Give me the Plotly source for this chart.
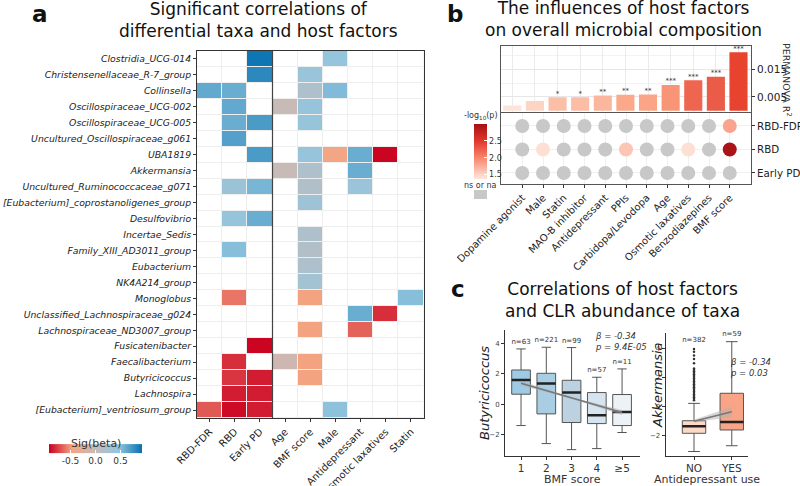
import plotly.graph_objects as go

W, H = 800, 486
def px(x): return x / W
def py(y): return 1 - y / H
FONT = "DejaVu Sans"
N = None

# ---------------- Panel a data ----------------
taxa = ["Clostridia_UCG-014", "Christensenellaceae_R-7_group", "Collinsella",
        "Oscillospiraceae_UCG-002", "Oscillospiraceae_UCG-005", "Uncultured_Oscillospiraceae_g061",
        "UBA1819", "Akkermansia", "Uncultured_Ruminococcaceae_g071",
        "[Eubacterium]_coprostanoligenes_group", "Desulfovibrio", "Incertae_Sedis",
        "Family_XIII_AD3011_group", "Eubacterium", "NK4A214_group", "Monoglobus",
        "Unclassified_Lachnospiraceae_g024", "Lachnospiraceae_ND3007_group", "Fusicatenibacter",
        "Faecalibacterium", "Butyricicoccus", "Lachnospira", "[Eubacterium]_ventriosum_group"]
factors = ["RBD-FDR", "RBD", "Early PD", "Age", "BMF score", "Male", "Antidepressant",
           "Osmotic laxatives", "Statin"]
beta = [
    [N, N, 0.90, N, N, 0.45, N, N, N],
    [N, N, 0.80, N, 0.40, N, N, N, N],
    [0.62, 0.60, N, N, 0.20, 0.52, N, N, N],
    [N, 0.62, N, -0.05, 0.42, N, N, N, N],
    [N, 0.60, 0.70, N, 0.43, N, N, N, N],
    [N, 0.67, N, N, N, N, N, N, N],
    [N, N, 0.70, N, 0.42, -0.45, 0.60, -0.92, N],
    [N, N, N, -0.05, 0.20, N, 0.60, N, N],
    [N, 0.38, 0.55, N, 0.17, N, 0.40, N, N],
    [N, N, N, N, 0.35, N, N, N, N],
    [N, 0.43, 0.60, N, N, N, N, N, N],
    [N, N, N, N, 0.20, N, N, N, N],
    [N, 0.50, N, N, 0.15, N, N, N, N],
    [N, N, N, N, 0.20, N, N, N, N],
    [N, N, N, N, 0.30, N, N, N, N],
    [N, -0.60, N, N, -0.47, N, N, N, 0.50],
    [N, N, N, N, N, N, 0.60, -0.80, N],
    [N, N, N, N, -0.47, N, -0.65, N, N],
    [N, N, -0.92, N, N, N, N, N, N],
    [N, -0.80, N, -0.10, -0.47, N, N, N, N],
    [N, -0.78, -0.85, N, -0.47, N, N, N, N],
    [N, -0.85, -0.85, N, N, N, N, N, N],
    [-0.68, -0.90, -0.85, N, N, 0.48, N, N, N],
]

# ---------------- Panel b data ----------------
b_factors = ["Dopamine agonist", "Male", "Statin", "MAO-B inhibitor", "Antidepressant", "PPIs",
             "Carbidopa/Levodopa", "Age", "Osmotic laxatives", "Benzodiazepines", "BMF score"]
b_r2 = [0.0019, 0.0035, 0.0049, 0.0049, 0.0055, 0.0058, 0.0059, 0.0094, 0.0111, 0.0124, 0.0213]
b_sig = ["", "", "*", "*", "**", "**", "**", "***", "***", "***", "***"]
b_rows = ["Early PD", "RBD", "RBD-FDR"]
b_logp = {
    "RBD-FDR": [N, N, N, N, N, N, N, N, N, N, 1.80],
    "RBD": [N, 1.42, N, N, N, 1.60, N, N, 1.42, N, 2.95],
    "Early PD": [N, N, N, N, N, N, N, N, N, N, N],
}
bar_colors = ["#fde3d8", "#fcd5c4", "#fbbfa8", "#fbbda6", "#fbb79d", "#fba88b", "#fba487",
              "#f99577", "#ee6650", "#ea5b48", "#e8432f"]

# ---------------- Panel c data ----------------
bmf_labels = ["1", "2", "3", "4", "≥5"]
bmf_n = ["n=63", "n=221", "n=99", "n=57", "n=11"]
bmf_low = [-1.41, -2.60, -3.00, -2.93, -1.87]
bmf_q1 = [0.66, -0.64, -1.21, -1.28, -1.41]
bmf_med = [1.60, 1.36, 0.77, -0.73, -0.51]
bmf_q3 = [2.26, 2.04, 1.58, 0.77, 0.64]
bmf_high = [3.65, 3.76, 3.74, 1.78, 2.33]
bmf_fill = ["#9fcae3", "#a9cde3", "#bcd2e0", "#d5e4ef", "#edf2f7"]
bmf_fit = [1.38, -0.55]      # fitted values at score 1 and >=5
bmf_ci = [0.15, 0.05, 0.17]  # half-width of band at start, middle, end

ad_labels = ["NO", "YES"]
ad_n = ["n=382", "n=59"]
ad_low = [-3.10, -2.70]
ad_q1 = [-1.84, -1.61]
ad_med = [-1.36, -1.06]
ad_q3 = [-0.97, 0.93]
ad_high = [0.23, 4.50]
ad_fill = ["#fcd9c6", "#f9a486"]
ad_out_no = [0.45, 0.55, 0.65, 0.75, 0.85, 0.95, 1.05, 1.15, 1.25, 1.35, 1.45, 1.55, 1.65,
             1.75, 1.85, 1.95, 2.05, 2.15, 2.25, 2.35, 2.45, 2.55, 2.65, 3.00, 3.30, 3.55, 3.80, 4.00]
ad_fit = [-1.00, -0.35]
ad_ci = [0.10, 0.35]

fig = go.Figure()

# ---------------- Panel a: heatmap ----------------
fig.add_trace(go.Heatmap(z=[[0] * len(factors) for _ in taxa], x=factors, y=taxa,
                         colorscale=[[0, "white"], [1, "white"]], showscale=False,
                         xgap=1, ygap=1, hoverinfo="skip", xaxis="x", yaxis="y"))
fig.add_trace(go.Heatmap(
    z=beta, x=factors, y=taxa, zmin=-0.93, zmax=0.93, xgap=1, ygap=1,
    colorscale=[[0, "#ca0020"], [0.25, "#f4a582"], [0.5, "#c3bcbc"], [0.75, "#92c5de"], [1, "#0571b0"]],
    colorbar=dict(orientation="h", x=px(95.5), xanchor="center", y=py(457), yanchor="middle",
                  len=93, lenmode="pixels", thickness=9, xpad=0, ypad=0, outlinewidth=0,
                  tickvals=[-0.5, 0, 0.5], ticktext=["-0.5", "0.0", "0.5"],
                  ticks="inside", tickcolor="white", ticklen=3,
                  tickfont=dict(size=9, color="#333", family=FONT)),
    xaxis="x", yaxis="y"))

# ---------------- Panel b: bars ----------------
fig.add_trace(go.Bar(x=b_factors, y=b_r2, marker=dict(color=bar_colors, line=dict(width=0)),
                     width=0.8, xaxis="x2", yaxis="y2", showlegend=False))
sig_x = [f for f, s in zip(b_factors, b_sig) if s]
sig_y = [v for v, s in zip(b_r2, b_sig) if s]
sig_t = [s for s in b_sig if s]
fig.add_trace(go.Scatter(x=sig_x, y=sig_y, text=sig_t, mode="text", textposition="top center",
                         textfont=dict(size=7, color="#333", family=FONT), cliponaxis=False,
                         xaxis="x2", yaxis="y2", showlegend=False))

ns_x, ns_y, s_x, s_y, s_c = [], [], [], [], []
for r in b_rows:
    for f, v in zip(b_factors, b_logp[r]):
        if v is None:
            ns_x.append(f); ns_y.append(r)
        else:
            s_x.append(f); s_y.append(r); s_c.append(v)
fig.add_trace(go.Scatter(x=ns_x, y=ns_y, mode="markers",
                         marker=dict(size=14, color="#c8c8c8", line=dict(width=0)),
                         xaxis="x3", yaxis="y3", showlegend=False))
fig.add_trace(go.Scatter(
    x=s_x, y=s_y, mode="markers", xaxis="x3", yaxis="y3", showlegend=False,
    marker=dict(size=14, color=s_c, cmin=1.37, cmax=3.0, line=dict(width=0),
                colorscale=[[0, "#fee6dc"], [0.08, "#fdd5c6"], [0.386, "#f8846c"],
                            [0.693, "#e2372b"], [1, "#a50f15"]],
                colorbar=dict(x=px(474), xanchor="left", y=py(151.5), yanchor="middle",
                              len=55, lenmode="pixels", thickness=13, xpad=0, ypad=0,
                              outlinewidth=0, tickvals=[1.5, 2.0, 2.5],
                              ticktext=["1.5", "2.0", "2.5"], ticks="inside", tickcolor="white",
                              ticklen=3, tickfont=dict(size=8, color="#333", family=FONT)))))

# ---------------- Panel c: boxplots ----------------
def add_boxes(xa, ya, low, q1, med, q3, high, fills, width):
    for i in range(len(med)):
        fig.add_trace(go.Box(x=[i], q1=[q1[i]], median=[med[i]], q3=[q3[i]],
                             lowerfence=[low[i]], upperfence=[high[i]], width=width,
                             fillcolor=fills[i], line=dict(color="#555555", width=1),
                             boxpoints=False, xaxis=xa, yaxis=ya, showlegend=False,
                             hoverinfo="skip"))
        fig.add_trace(go.Scatter(x=[i - width / 2, i + width / 2], y=[med[i], med[i]], mode="lines",
                                 line=dict(color="#222222", width=2.5), xaxis=xa, yaxis=ya,
                                 showlegend=False, hoverinfo="skip"))

add_boxes("x4", "y4", bmf_low, bmf_q1, bmf_med, bmf_q3, bmf_high, bmf_fill, 0.74)
add_boxes("x5", "y5", ad_low, ad_q1, ad_med, ad_q3, ad_high, ad_fill, 0.62)

fig.add_trace(go.Scatter(x=[0] * len(ad_out_no), y=ad_out_no, mode="markers",
                         marker=dict(size=2.5, color="#333"), xaxis="x5", yaxis="y5",
                         showlegend=False, hoverinfo="skip"))

# regression lines + bands
nb = len(bmf_labels) - 1
slope = (bmf_fit[1] - bmf_fit[0]) / nb
xs = [0, nb / 2, nb]
ys = [bmf_fit[0] + slope * x for x in xs]
fig.add_trace(go.Scatter(x=xs + xs[::-1], y=[y + c for y, c in zip(ys, bmf_ci)] +
                         [y - c for y, c in zip(ys, bmf_ci)][::-1], fill="toself",
                         fillcolor="rgba(175,175,175,0.5)", line=dict(width=0), mode="lines",
                         xaxis="x4", yaxis="y4", showlegend=False, hoverinfo="skip"))
fig.add_trace(go.Scatter(x=[0, nb], y=bmf_fit, mode="lines", line=dict(color="#777", width=1.5),
                         xaxis="x4", yaxis="y4", showlegend=False, hoverinfo="skip"))
fig.add_trace(go.Scatter(x=[0, 1, 1, 0], y=[ad_fit[0] + ad_ci[0], ad_fit[1] + ad_ci[1],
                                            ad_fit[1] - ad_ci[1], ad_fit[0] - ad_ci[0]],
                         fill="toself", fillcolor="rgba(175,175,175,0.5)", line=dict(width=0),
                         mode="lines", xaxis="x5", yaxis="y5", showlegend=False, hoverinfo="skip"))
fig.add_trace(go.Scatter(x=[0, 1], y=ad_fit, mode="lines", line=dict(color="#777", width=1.5),
                         xaxis="x5", yaxis="y5", showlegend=False, hoverinfo="skip"))

# n labels
fig.add_trace(go.Scatter(x=list(range(len(bmf_n))), y=[h + 0.45 for h in bmf_high], text=bmf_n,
                         mode="text", textfont=dict(size=7, color="#333", family=FONT),
                         xaxis="x4", yaxis="y4", showlegend=False, cliponaxis=False))
fig.add_trace(go.Scatter(x=[0, 1], y=[max(ad_out_no) + 0.6, ad_high[1] + 0.5], text=ad_n,
                         mode="text", textfont=dict(size=7, color="#333", family=FONT),
                         xaxis="x5", yaxis="y5", showlegend=False, cliponaxis=False))

# ---------------- Layout ----------------
tickf = dict(family=FONT, size=10, color="#222")
common_line = dict(showline=True, linecolor="#333", linewidth=1, ticks="outside", ticklen=3,
                   tickcolor="#333", zeroline=False)

layout = dict(
    width=W, height=H, margin=dict(l=0, r=0, t=0, b=0, autoexpand=False), paper_bgcolor="white",
    plot_bgcolor="white", font=dict(family=FONT, color="#222"), showlegend=False,
    # heatmap
    xaxis=dict(domain=[px(197), px(423.5)], anchor="y", tickangle=-45, tickfont=tickf,
               mirror=True, showgrid=False, **common_line),
    yaxis=dict(domain=[py(418), py(51)], anchor="x", autorange="reversed", mirror=True,
               showgrid=False, tickfont=dict(family=FONT, size=9.3, color="#222", style="italic"),
               **common_line),
    # bars
    xaxis2=dict(domain=[px(501), px(751)], anchor="y2", showticklabels=False, mirror=True,
                showline=True, linecolor="#555", linewidth=1, showgrid=True, gridcolor="#ebebeb",
                ticks="", categoryorder="array", categoryarray=b_factors, zeroline=False),
    yaxis2=dict(domain=[py(111.5), py(46)], anchor="x2", side="right", range=[-0.0003, 0.0236],
                tickvals=[0.005, 0.015], ticktext=["0.005", "0.015"], mirror=True, showline=True,
                linecolor="#555", linewidth=1, ticks="outside", ticklen=3, tickcolor="#333",
                showgrid=True, gridcolor="#e6e6e6", zeroline=False,
                minor=dict(tickvals=[0, 0.01, 0.02], showgrid=True, gridcolor="#f3f3f3", ticks=""),
                tickfont=dict(family=FONT, size=10.5, color="#222")),
    # dots
    xaxis3=dict(domain=[px(501), px(751)], anchor="y3", tickangle=-45, tickfont=tickf,
                mirror=True, showline=True, linecolor="#555", linewidth=1, ticks="outside",
                ticklen=3, tickcolor="#333", showgrid=True, gridcolor="#f0f0f0",
                categoryorder="array", categoryarray=b_factors, zeroline=False),
    yaxis3=dict(domain=[py(184), py(113)], anchor="x3", side="right", range=[-0.47, 2.55],
                categoryorder="array", categoryarray=b_rows, mirror=True, showline=True,
                linecolor="#555", linewidth=1, ticks="outside", ticklen=3, tickcolor="#333",
                showgrid=True, gridcolor="#f0f0f0", zeroline=False,
                tickfont=dict(family=FONT, size=10.3, color="#222")),
    # box left
    xaxis4=dict(domain=[px(505), px(640)], anchor="y4", range=[-0.635, 4.71],
                tickvals=list(range(len(bmf_labels))), ticktext=bmf_labels, showgrid=False,
                tickfont=dict(family=FONT, size=10.5, color="#333"), **common_line),
    yaxis4=dict(domain=[py(455.7), py(330)], anchor="x4", range=[-3.4, 4.9],
                tickvals=[-2, 0, 2, 4], showgrid=False,
                tickfont=dict(family=FONT, size=7, color="#444"), **common_line),
    # box right
    xaxis5=dict(domain=[px(665.7), px(748)], anchor="y5", range=[-0.75, 1.43],
                tickvals=[0, 1], ticktext=ad_labels, showgrid=False,
                tickfont=dict(family=FONT, size=10.5, color="#333"), **common_line),
    yaxis5=dict(domain=[py(455.7), py(333)], anchor="x5", range=[-3.39, 5.1],
                tickvals=[-2, 0, 2, 4], showgrid=False,
                tickfont=dict(family=FONT, size=7, color="#444"), **common_line),
)
fig.update_layout(**layout)

# heatmap area background (cell borders) and separator line
fig.add_shape(type="rect", xref="x domain", yref="y domain", x0=0, x1=1, y0=0, y1=1,
              fillcolor="#eeeeee", line=dict(width=0), layer="below")
fig.add_shape(type="line", xref="x", yref="y domain", x0=2.5, x1=2.5, y0=0, y1=1,
              line=dict(color="#444", width=1.2))
# ns grey square
fig.add_shape(type="rect", xref="paper", yref="paper", x0=px(474), x1=px(487), y0=py(199),
              y1=py(190), fillcolor="#c8c8c8", line=dict(width=0))

def ann(text, x, y, size, **kw):
    d = dict(text=text, x=px(x), y=py(y), xref="paper", yref="paper", showarrow=False,
             font=dict(family=FONT, size=size, color=kw.pop("color", "#111")),
             xanchor=kw.pop("xanchor", "center"), yanchor=kw.pop("yanchor", "middle"))
    if "style" in kw:
        d["font"]["style"] = kw.pop("style")
    d.update(kw)
    fig.add_annotation(**d)

ann("<b>a</b>", 40, 14, 23)
ann("<b>b</b>", 455, 14, 23)
ann("<b>c</b>", 458, 289, 23)
ann("Significant correlations of<br>differential taxa and host factors", 258, 20, 17)
ann("The influences of host factors<br>on overall microbial composition", 623, 19, 17)
ann("Correlations of host factors<br>and CLR abundance of taxa", 622, 300, 17)
ann("Sig(beta)", 96, 443, 11, color="#333")
ann("-log<sub>10</sub>(p)", 481, 116, 8, color="#333")
ann("ns or na", 480, 186, 8, color="#333")
ann("PERMANOVA R<sup>2</sup>", 787, 80, 9.5, textangle=90, color="#333")
ann("Butyricicoccus", 484, 393, 13, style="italic", textangle=-90, color="#222")
ann("Akkermansia", 657, 385, 13, style="italic", textangle=-90, color="#222")
ann("BMF score", 572, 479.5, 11, color="#333")
ann("Antidepressant use", 707, 479.5, 11, color="#333")
ann("β = -0.34<br>p = 9.4E-05", 593, 341, 8.5, style="italic", xanchor="left", align="left",
    color="#333")
ann("β = -0.34<br>p = 0.03", 728, 367, 8.5, style="italic", xanchor="left", align="left",
    color="#333")

fig.write_html("out.html", config={"displayModeBar": False},
               post_script="document.body.style.margin='0px';")
